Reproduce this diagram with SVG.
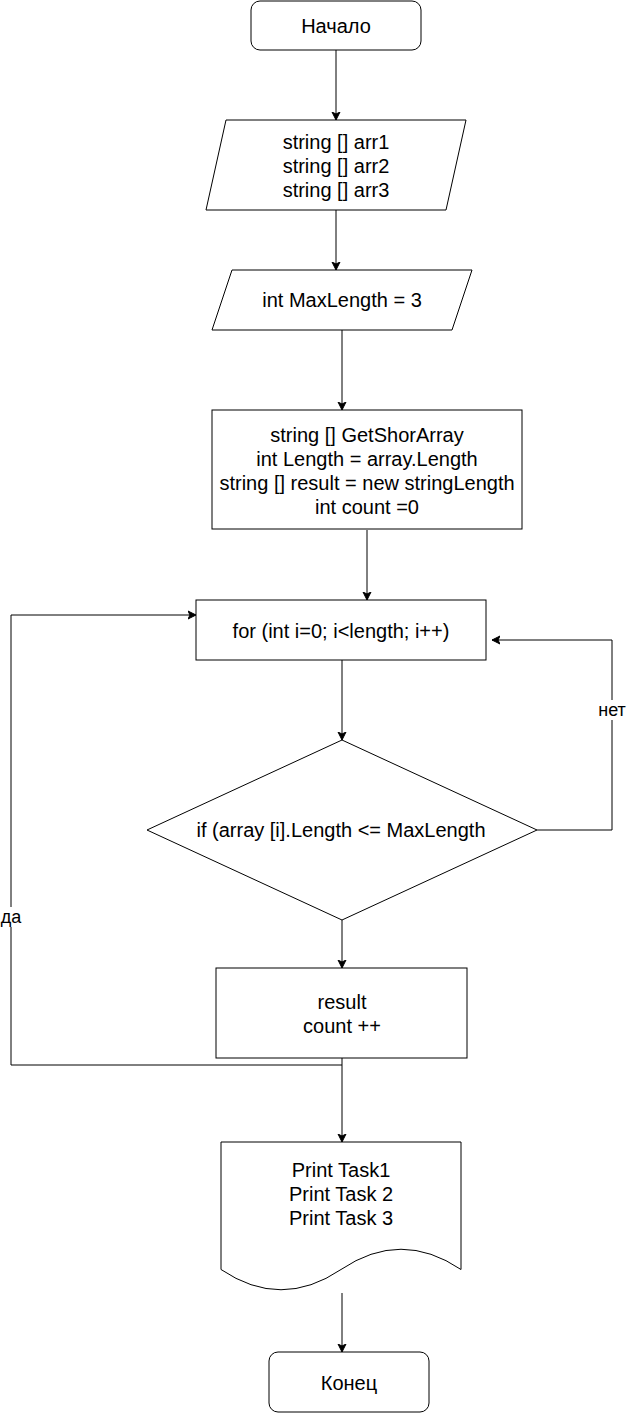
<svg xmlns="http://www.w3.org/2000/svg" width="628" height="1413" viewBox="0 0 628 1413">
<style>
.s{fill:#fff;stroke:#000;stroke-width:1}
.t{font-family:"Liberation Sans",Arial,sans-serif;font-size:20px;fill:#000;text-anchor:middle}
.l{font-family:"Liberation Sans",Arial,sans-serif;font-size:18px;fill:#000;text-anchor:middle}
.c{fill:none;stroke:#000;stroke-width:1}
</style>
<defs>
<marker id="a" markerUnits="userSpaceOnUse" markerWidth="10" markerHeight="10" refX="8" refY="4" orient="auto" viewBox="0 0 10 8">
<path d="M0,0 L8,4 L0,8 L2,4 Z" fill="#000" stroke="#000" stroke-width="1"/>
</marker>
</defs>
<rect width="628" height="1413" fill="#fff"/>
<g id="connectors">
<path class="c" d="M336,50 V120" marker-end="url(#a)"/>
<path class="c" d="M336,210 V270" marker-end="url(#a)"/>
<path class="c" d="M342,330 V410" marker-end="url(#a)"/>
<path class="c" d="M367,530 V600" marker-end="url(#a)"/>
<path class="c" d="M342,660 V740" marker-end="url(#a)"/>
<path class="c" d="M342,920 V968" marker-end="url(#a)"/>
<path class="c" d="M537,830 H612 V640 H492" marker-end="url(#a)"/>
<path class="c" d="M342,1058 V1142" marker-end="url(#a)"/>
<path class="c" d="M342,1065 H11 V615 H196" marker-end="url(#a)"/>
<path class="c" d="M342,1293 V1352" marker-end="url(#a)"/>
<g id="label-net"><rect x="596" y="700" width="32" height="20" fill="#fff"/><text class="l" x="612" y="716">нет</text></g>
<g id="label-da"><rect x="0" y="907" width="22" height="20" fill="#fff"/><text class="l" x="11" y="923">да</text></g>
</g>
<g id="start"><rect class="s" x="251" y="1" width="170" height="49" rx="9"/><text class="t" x="336" y="33">Начало</text></g>
<g id="input1"><path class="s" d="M226,120 H466 L446,210 H206 Z"/>
<text class="t" x="336" y="149">string [] arr1</text>
<text class="t" x="336" y="173">string [] arr2</text>
<text class="t" x="336" y="197">string [] arr3</text></g>
<g id="input2"><path class="s" d="M232,270 H472 L452,330 H212 Z"/><text class="t" x="342" y="307">int MaxLength = 3</text></g>
<g id="process1"><rect class="s" x="212" y="410" width="310" height="119"/>
<text class="t" x="367" y="442">string [] GetShorArray</text>
<text class="t" x="367" y="466">int Length = array.Length</text>
<text class="t" x="367" y="490">string [] result = new stringLength</text>
<text class="t" x="367" y="514">int count =0</text></g>
<g id="loop"><rect class="s" x="196" y="600" width="290" height="60"/><text class="t" x="341" y="638">for (int i=0; i&lt;length; i++)</text></g>
<g id="decision"><path class="s" d="M342,740 L537,830 L342,920 L147,830 Z"/><text class="t" x="341" y="837">if (array [i].Length &lt;= MaxLength</text></g>
<g id="process2"><rect class="s" x="216" y="968" width="251" height="90"/>
<text class="t" x="342" y="1009">result</text>
<text class="t" x="342" y="1033">count ++</text></g>
<g id="output"><path class="s" d="M221,1142 H461 V1269.5 Q401,1229 341,1269.5 Q281,1310 221,1269.5 Z"/>
<text class="t" x="341" y="1177">Print Task1</text>
<text class="t" x="341" y="1201">Print Task 2</text>
<text class="t" x="341" y="1225">Print Task 3</text></g>
<g id="end"><rect class="s" x="269" y="1352" width="160" height="60" rx="9"/><text class="t" x="349" y="1390">Конец</text></g>
</svg>
